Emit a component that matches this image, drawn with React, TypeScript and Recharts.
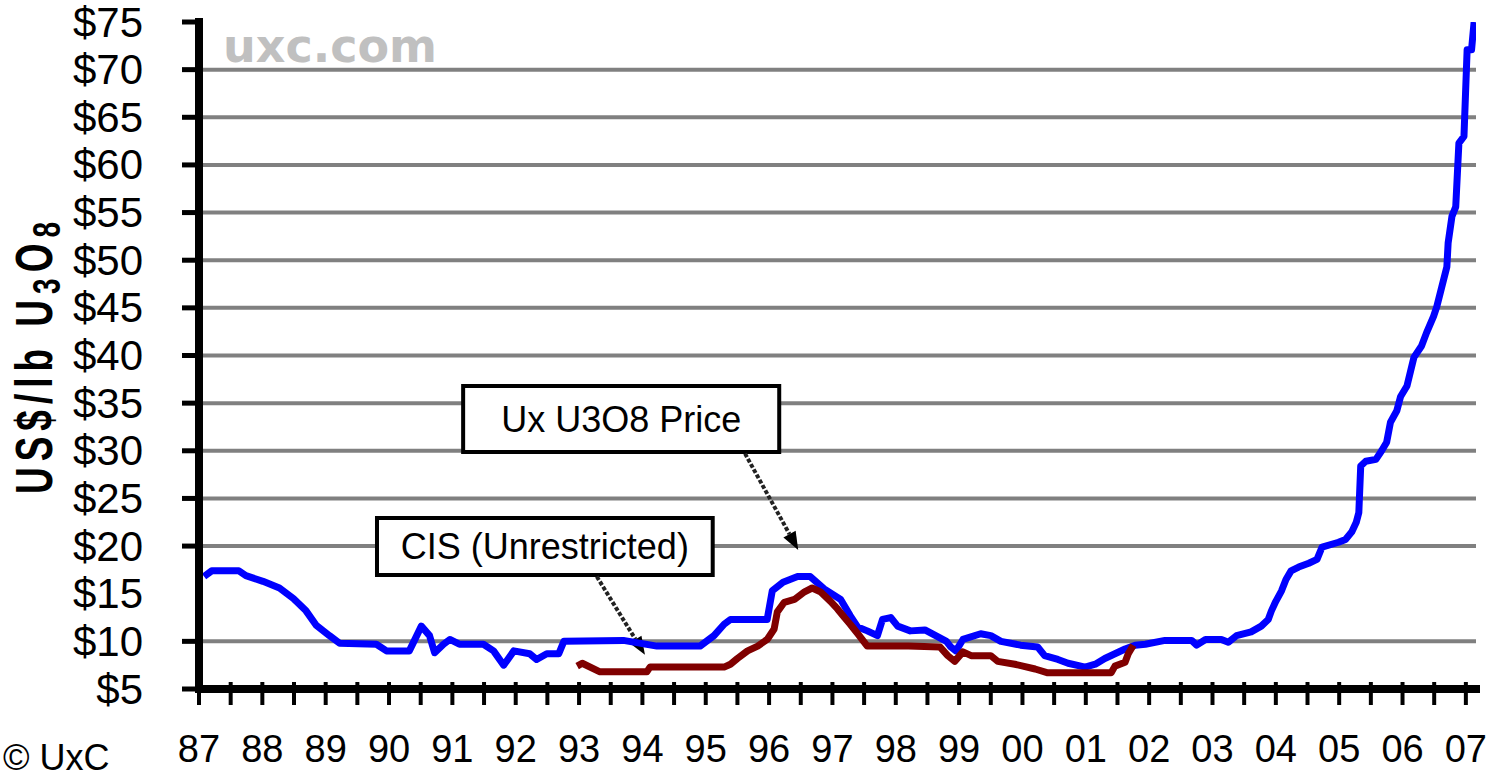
import React from 'react';
import { LineChart, Line, XAxis, YAxis, CartesianGrid, ReferenceArea, ReferenceLine } from 'recharts';

// ---- Data ----
const uxYears = [
  1987.08, 1987.2, 1987.63, 1987.74, 1988.01, 1988.27, 1988.49, 1988.69, 1988.85, 1989.06,
  1989.22, 1989.8, 1989.96, 1990.32, 1990.43, 1990.51, 1990.64, 1990.72, 1990.86, 1990.96,
  1991.11, 1991.49, 1991.65, 1991.81, 1991.97, 1992.22, 1992.33, 1992.49, 1992.68, 1992.76,
  1993.7, 1994.23, 1994.91, 1995.13, 1995.29, 1995.39, 1995.97, 1996.05, 1996.22, 1996.45,
  1996.65, 1996.87, 1997.13, 1997.28, 1997.4, 1997.55, 1997.71, 1997.79, 1997.92, 1998.03,
  1998.23, 1998.46, 1998.66, 1998.8, 1998.87, 1998.95, 1999.06, 1999.34, 1999.5, 1999.66,
  1999.97, 2000.24, 2000.35, 2000.56, 2000.72, 2000.99, 2001.15, 2001.3, 2001.46, 2001.62,
  2001.78, 2001.94, 2002.25, 2002.67, 2002.75, 2002.89, 2003.14, 2003.25, 2003.38, 2003.61,
  2003.77, 2003.88, 2003.93, 2004.0, 2004.09, 2004.16, 2004.24, 2004.36, 2004.52, 2004.65,
  2004.73, 2004.99, 2005.1, 2005.2, 2005.27, 2005.31, 2005.34, 2005.42, 2005.58, 2005.67,
  2005.75, 2005.81, 2005.91, 2005.97, 2006.07, 2006.18, 2006.3, 2006.38, 2006.49, 2006.54,
  2006.62, 2006.7, 2006.72, 2006.78, 2006.84, 2006.89, 2006.97, 2007.02, 2007.09, 2007.13,
];
const uxPrices = [
  16.8, 17.4, 17.4, 16.9, 16.3, 15.6, 14.5, 13.2, 11.7, 10.6,
  9.8, 9.7, 9.0, 9.0, 10.5, 11.6, 10.6, 8.8, 9.7, 10.2,
  9.7, 9.7, 9.0, 7.5, 9.0, 8.7, 8.1, 8.7, 8.7, 10.0,
  10.1, 9.5, 9.5, 10.6, 11.8, 12.3, 12.3, 15.3, 16.2, 16.8,
  16.8, 15.5, 14.4, 12.7, 11.5, 11.1, 10.6, 12.3, 12.5, 11.6,
  11.1, 11.2, 10.5, 10.0, 9.4, 9.0, 10.2, 10.8, 10.6, 10.0,
  9.6, 9.4, 8.5, 8.1, 7.7, 7.3, 7.6, 8.2, 8.7, 9.2,
  9.6, 9.7, 10.1, 10.1, 9.6, 10.2, 10.2, 9.9, 10.6, 11.0,
  11.6, 12.3, 13.2, 14.2, 15.3, 16.5, 17.4, 17.8, 18.2, 18.6,
  19.9, 20.4, 20.7, 21.5, 22.5, 23.5, 28.4, 28.9, 29.1, 30.0,
  30.9, 33.0, 34.2, 35.7, 36.8, 39.8, 41.0, 42.4, 44.1, 45.1,
  47.2, 49.3, 51.8, 54.6, 55.6, 62.3, 63.0, 72.1, 72.1, 75.0,
];

const cisYears = [
  1992.97, 1993.05, 1993.33, 1994.07, 1994.12, 1995.29, 1995.39, 1995.5, 1995.66, 1995.82,
  1995.97, 1996.08, 1996.13, 1996.24, 1996.4, 1996.56, 1996.68, 1996.81, 1996.97, 1997.08,
  1997.19, 1997.28, 1997.4, 1997.55, 1998.2, 1998.7, 1998.82, 1998.93, 1999.06, 1999.19,
  1999.5, 1999.61, 1999.88, 2000.2, 2000.4, 2001.4, 2001.46, 2001.62, 2001.67, 2001.75,
];
const cisPrices = [
  7.4, 7.7, 6.8, 6.8, 7.3, 7.3, 7.6, 8.2, 9.0, 9.5,
  10.2, 11.3, 13.1, 14.1, 14.4, 15.2, 15.6, 15.2, 14.2, 13.4,
  12.5, 11.8, 10.8, 9.5, 9.5, 9.4, 8.5, 7.9, 8.9, 8.5,
  8.5, 7.9, 7.6, 7.1, 6.7, 6.7, 7.4, 7.8, 8.7, 9.6,
];

const yTicks = [5, 10, 15, 20, 25, 30, 35, 40, 45, 50, 55, 60, 65, 70, 75];
const gridValues = [10, 20, 25, 30, 35, 40, 45, 50, 55, 60, 65, 70];
const yearTicks = [
  1987, 1988, 1989, 1990, 1991, 1992, 1993, 1994, 1995, 1996, 1997,
  1998, 1999, 2000, 2001, 2002, 2003, 2004, 2005, 2006, 2007,
];
const halfYearTicks = yearTicks.slice(0, -1).map((y) => y + 0.5);
const xTicks = [...yearTicks, ...halfYearTicks].sort((a, b) => a - b);
const yTicksWithoutMark = [15];

const uxLabel = 'Ux U3O8 Price';
const cisLabel = 'CIS (Unrestricted)';

const uxData = uxYears.map((year, i) => ({ year, price: uxPrices[i] }));
const cisData = cisYears.map((year, i) => ({ year, price: cisPrices[i] }));

// ---- Layout / annotation placement (data units) ----
const X_DOMAIN: [number, number] = [1987, 2007.16];
const Y_DOMAIN: [number, number] = [5, 75];
const UX_BOX = { x1: 1991.17, x2: 1996.16, y1: 29.87, y2: 36.8 };
const CIS_BOX = { x1: 1989.81, x2: 1995.11, y1: 16.96, y2: 22.95 };
const UX_ARROW = [{ x: 1995.62, y: 29.7 }, { x: 1996.46, y: 19.6 }];
const CIS_ARROW = [{ x: 1993.28, y: 16.8 }, { x: 1994.04, y: 8.6 }];

const FONT = '"Liberation Sans", Arial, sans-serif';

const YTick = (props: any) => {
  const { x, y, payload } = props;
  const v = payload.value;
  return (
    <g>
      {!yTicksWithoutMark.includes(v) && (
        <line x1={x - 17} x2={x} y1={y} y2={y} stroke="#000" strokeWidth={5} />
      )}
      <text
        x={x - 56}
        y={y}
        textAnchor="end"
        dominantBaseline="central"
        fontSize={42}
        fontFamily={FONT}
        fill="#000"
      >
        {`$${v}`}
      </text>
    </g>
  );
};

const XTick = (props: any) => {
  const { x, y, payload } = props;
  const v = payload.value;
  const isYear = Number.isInteger(v);
  return (
    <g>
      <line x1={x} x2={x} y1={y - 7} y2={y + 16} stroke="#000" strokeWidth={4} />
      {isYear && (
        <text x={x} y={y + 73} textAnchor="middle" fontSize={38} fontFamily={FONT} fill="#000">
          {String(v).slice(2)}
        </text>
      )}
    </g>
  );
};

const Arrow = (props: any) => {
  const { x1, y1, x2, y2 } = props;
  const dx = x2 - x1;
  const dy = y2 - y1;
  const len = Math.sqrt(dx * dx + dy * dy) || 1;
  const ux = dx / len;
  const uy = dy / len;
  const head = 18;
  const half = 7;
  const bx = x2 - ux * head;
  const by = y2 - uy * head;
  const p1 = `${x2},${y2}`;
  const p2 = `${bx - uy * half},${by + ux * half}`;
  const p3 = `${bx + uy * half},${by - ux * half}`;
  return (
    <g>
      <line x1={x1} y1={y1} x2={bx} y2={by} stroke="#222" strokeWidth={4} strokeDasharray="4 2" />
      <polygon points={`${p1} ${p2} ${p3}`} fill="#000" />
    </g>
  );
};

export default function App() {
  return (
    <div style={{ position: 'absolute', left: 0, top: 0, width: 1488, height: 779, background: '#fff' }}>
      <LineChart width={1488} height={779} margin={{ top: 22, right: 12, bottom: 0, left: 0 }}>
        <CartesianGrid
          vertical={false}
          horizontalValues={gridValues}
          stroke="#808080"
          strokeWidth={4}
        />
        <XAxis
          dataKey="year"
          type="number"
          domain={X_DOMAIN}
          allowDataOverflow
          ticks={xTicks}
          interval={0}
          height={90}
          tickSize={0}
          tickMargin={0}
          tickLine={false}
          tick={<XTick />}
          axisLine={{ stroke: '#000', strokeWidth: 8, strokeLinecap: 'square' }}
        />
        <XAxis
          xAxisId="top"
          orientation="top"
          type="number"
          domain={X_DOMAIN}
          allowDataOverflow
          height={0}
          tick={false}
          tickLine={false}
          axisLine={{ stroke: '#000', strokeWidth: 7, strokeLinecap: 'square' }}
        />
        <YAxis
          type="number"
          domain={Y_DOMAIN}
          allowDataOverflow
          ticks={yTicks}
          interval={0}
          width={199}
          tickSize={0}
          tickMargin={0}
          tickLine={false}
          tick={<YTick />}
          axisLine={{ stroke: '#000', strokeWidth: 8, strokeLinecap: 'square' }}
        />
        <YAxis
          yAxisId="right"
          orientation="right"
          type="number"
          domain={Y_DOMAIN}
          width={0}
          tick={false}
          tickLine={false}
          axisLine={{ stroke: '#000', strokeWidth: 8, strokeLinecap: 'square' }}
        />
        <ReferenceArea
          x1={UX_BOX.x1}
          x2={UX_BOX.x2}
          y1={UX_BOX.y1}
          y2={UX_BOX.y2}
          fill="#fff"
          fillOpacity={1}
          stroke="#000"
          strokeWidth={4}
          label={{ value: uxLabel, position: 'center', fontSize: 36, fill: '#000', fontFamily: FONT }}
        />
        <ReferenceArea
          x1={CIS_BOX.x1}
          x2={CIS_BOX.x2}
          y1={CIS_BOX.y1}
          y2={CIS_BOX.y2}
          fill="#fff"
          fillOpacity={1}
          stroke="#000"
          strokeWidth={4}
          label={{ value: cisLabel, position: 'center', fontSize: 36, fill: '#000', fontFamily: FONT }}
        />
        <ReferenceLine segment={UX_ARROW} shape={<Arrow />} />
        <ReferenceLine segment={CIS_ARROW} shape={<Arrow />} />
        <Line
          data={uxData}
          dataKey="price"
          type="linear"
          stroke="#0000ff"
          strokeWidth={7}
          dot={false}
          activeDot={false}
          isAnimationActive={false}
          strokeLinejoin="round"
        />
        <Line
          data={cisData}
          dataKey="price"
          type="linear"
          stroke="#800000"
          strokeWidth={7}
          dot={false}
          activeDot={false}
          isAnimationActive={false}
          strokeLinejoin="round"
        />
      </LineChart>
      <svg
        width={1488}
        height={779}
        style={{ position: 'absolute', left: 0, top: 0, pointerEvents: 'none' }}
      >
        <text x={223} y={62} fontSize={46} fontWeight="bold" fontFamily='"DejaVu Sans", sans-serif' fill="#c0c0c0">
          uxc.com
        </text>
        <text
          transform="translate(52,355) rotate(-90) scale(1,1.4)"
          textAnchor="middle"
          fontSize={37}
          fontWeight="bold"
          fontFamily={FONT}
          letterSpacing={6}
          fill="#000"
        >
          US$/lb U<tspan fontSize={28} dy={6}>3</tspan>
          <tspan dy={-6}>O</tspan>
          <tspan fontSize={28} dy={6}>8</tspan>
        </text>
        <text x={3} y={770} fontSize={36} fontFamily={FONT} fill="#000">
          © UxC
        </text>
      </svg>
    </div>
  );
}
